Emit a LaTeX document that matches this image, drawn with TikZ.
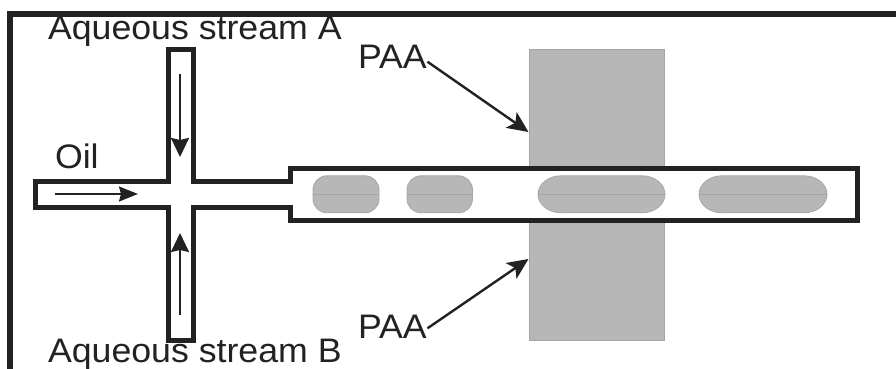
\documentclass[tikz,border=0pt]{standalone}
\usepackage{fontspec}
\setmainfont{Liberation Sans}
\usetikzlibrary{arrows.meta}
\definecolor{ink}{HTML}{222222}
\definecolor{paa}{HTML}{B7B7B7}
\definecolor{paaline}{HTML}{A6A6A6}
\tikzset{
  lbl/.style={anchor=base west,inner sep=0pt,outer sep=0pt,text=ink,font=\fontsize{34}{38}\selectfont,xscale=1.05,transform shape},
  pad/.style={draw=paaline,fill=paa,line width=0.8pt,anchor=north west,inner sep=0pt,minimum width=135pt,minimum height=119pt},
  slug/.style={draw=paaline,fill=paa,line width=0.8pt},
  slugmid/.style={draw=paaline,line width=0.5pt},
  flow/.style={draw=ink,line width=2.2pt,-{Stealth[length=19pt,width=18pt,inset=2pt]}},
  flowh/.style={draw=ink,line width=1.6pt,-{Stealth[length=19pt,width=15pt,inset=2pt]}},
  lead/.style={draw=ink,line width=2.4pt,-{Stealth[length=21pt,width=19pt,inset=5pt]},shorten <=3pt},
  chan/.style={draw=ink,line width=5pt,fill=white,miter limit=10},
}
% left x, right x, horizontal radius, vertical radius of the rounded ends
\newcommand{\slugshape}[4]{%
  \draw[slug] ({#1+#3},175.8) -- ({#2-#3},175.8)
    .. controls ({#2-0.45*#3},175.8) and (#2,{175.8+0.45*#4}) .. (#2,{175.8+#4})
    -- (#2,{212.8-#4})
    .. controls (#2,{212.8-0.45*#4}) and ({#2-0.45*#3},212.8) .. ({#2-#3},212.8)
    -- ({#1+#3},212.8)
    .. controls ({#1+0.45*#3},212.8) and (#1,{212.8-0.45*#4}) .. (#1,{212.8-#4})
    -- (#1,{175.8+#4})
    .. controls (#1,{175.8+0.45*#4}) and ({#1+0.45*#3},175.8) .. ({#1+#3},175.8) -- cycle;
  \draw[slugmid] (#1,194.3) -- (#2,194.3);
}
\begin{document}
\begin{tikzpicture}[x=1pt,y=-1pt]
\useasboundingbox (0,0) rectangle (896,369);
\fill[white] (0,0) rectangle (896,369);
% frame
\draw[ink,line width=5.5pt] (10,369) -- (10,14) -- (896,14);
% PAA pads
\node[pad] (padT) at (528.5,49) {};
\node[pad] (padB) at (528.5,221) {};
% channel
\draw[chan] (35,181.5) -- (168,181.5) -- (168,49.5) -- (193,49.5) -- (193,181.5) -- (290.5,181.5) -- (290.5,168.5) -- (857.5,168.5) -- (857.5,220.5) -- (290.5,220.5) -- (290.5,207) -- (193,207) -- (193,340) -- (168,340) -- (168,207) -- (35,207) -- cycle;
% slugs
\slugshape{313}{379}{14}{14}
\slugshape{407}{472.5}{14}{14}
\slugshape{538}{665}{23}{18.5}
\slugshape{699}{827}{23}{18.5}
% labels
\node[lbl] (lA) at (48,40) {Aqueous stream A};
\node[lbl] (lB) at (48,362) {Aqueous stream B};
\node[lbl] (oil) at (55,168) {Oil};
\node[lbl] (paaT) at (358,68) {PAA};
\node[lbl] (paaB) at (358,338) {PAA};
% flow arrows
\coordinate (a1) at (180,74); \coordinate (a2) at (180,157);
\coordinate (b1) at (180,315); \coordinate (b2) at (180,233);
\coordinate (o1) at (55,194); \coordinate (o2) at (138,194);
\draw[flow] (a1) -- (a2);
\draw[flow] (b1) -- (b2);
\draw[flowh] (o1) -- (o2);
% PAA leaders
\coordinate (tT) at (padT.west |- 0,132);
\coordinate (tB) at (padB.west |- 0,259);
\coordinate (fT) at (425,60);
\coordinate (fB) at (425,330);
\draw[lead] (fT) -- (tT);
\draw[lead] (fB) -- (tB);
\end{tikzpicture}
\end{document}
